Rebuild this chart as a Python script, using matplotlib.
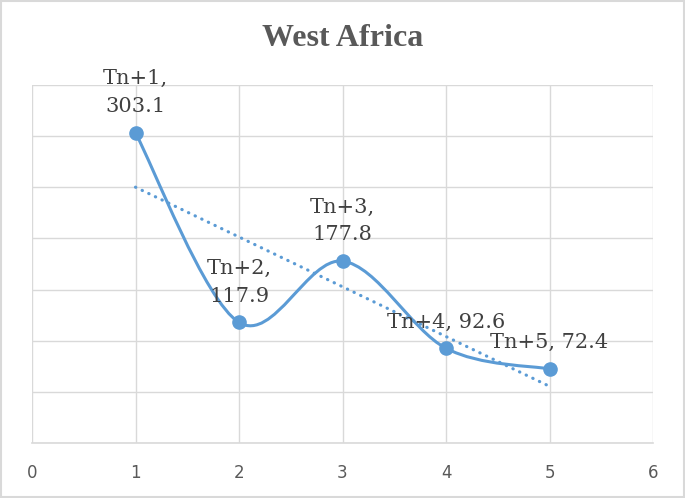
import matplotlib
matplotlib.use('Agg')
import matplotlib.pyplot as plt
import numpy as np
from matplotlib.path import Path
from matplotlib.patches import PathPatch, Rectangle

BLUE = '#5B9BD5'
GRID = '#D9D9D9'
GREY = '#595959'

x = [1, 2, 3, 4, 5]
y = [303.1, 117.9, 177.8, 92.6, 72.4]
names = ['Tn+1', 'Tn+2', 'Tn+3', 'Tn+4', 'Tn+5']
labels = ['Tn+1,\n303.1', 'Tn+2,\n117.9', 'Tn+3,\n177.8', 'Tn+4, 92.6', 'Tn+5, 72.4']
xticks = [0, 1, 2, 3, 4, 5, 6]
yticks = [0, 50, 100, 150, 200, 250, 300, 350]


def smooth_path(xs, ys):
	# excel style smoothed line: catmull-rom turned into cubic beziers
	p = np.column_stack([xs, ys]).astype(float)
	n = len(p)
	verts = [p[0]]
	codes = [Path.MOVETO]
	for i in range(n - 1):
		a = p[max(i - 1, 0)]
		b = p[i]
		c = p[i + 1]
		d = p[min(i + 2, n - 1)]
		verts += [b + (c - a) / 6, c - (d - b) / 6, c]
		codes += [Path.CURVE4] * 3
	return Path(verts, codes)


fig = plt.figure(figsize=(6.85, 4.98), dpi=100)
ax = fig.add_axes([32 / 685, 55 / 498, 621 / 685, 358 / 498])

ax.set_xlim(0, 6)
ax.set_ylim(0, 350)
ax.set_xticks(xticks)
ax.set_yticks(yticks)
ax.set_yticklabels([])
ax.grid(True, color=GRID, linewidth=1)
ax.set_axisbelow(True)
for s in ax.spines.values():
	s.set_visible(False)
ax.spines['bottom'].set_visible(True)
ax.spines['bottom'].set_color(GRID)
ax.spines['bottom'].set_linewidth(1.2)
ax.tick_params(length=0, pad=15, colors=GREY, labelsize=12)
ax.tick_params(axis='y', length=0)

# linear trend line
k, b = np.polyfit(x, y, 1)
tx = np.array([x[0], x[-1]])
ax.plot(tx, k * tx + b, color=BLUE, linewidth=2.3, linestyle=(0, (0.1, 2.2)),
		dash_capstyle='round', zorder=2)

ax.add_patch(PathPatch(smooth_path(x, y), facecolor='none', edgecolor=BLUE,
					   linewidth=2.2, zorder=3, capstyle='round'))
ax.plot(x, y, 'o', color=BLUE, markersize=9.5, zorder=4)

for xi, yi, lab in zip(x, y, labels):
	ax.annotate(lab, (xi, yi), xytext=(0, 12), textcoords='offset points',
				ha='center', va='bottom', fontsize=15, family='DejaVu Serif',
				color='#404040', linespacing=1.6, zorder=5)

fig.text(343 / 685, 1 - 38 / 498, 'West Africa', ha='center', va='center',
		 fontsize=23, fontweight='bold', family='Liberation Serif', color=GREY)

fig.patches.append(Rectangle((0.002, 0.002), 0.996, 0.996, transform=fig.transFigure,
							 facecolor='none', edgecolor=GRID, linewidth=1.5))

fig.savefig('out.png', dpi=100)
